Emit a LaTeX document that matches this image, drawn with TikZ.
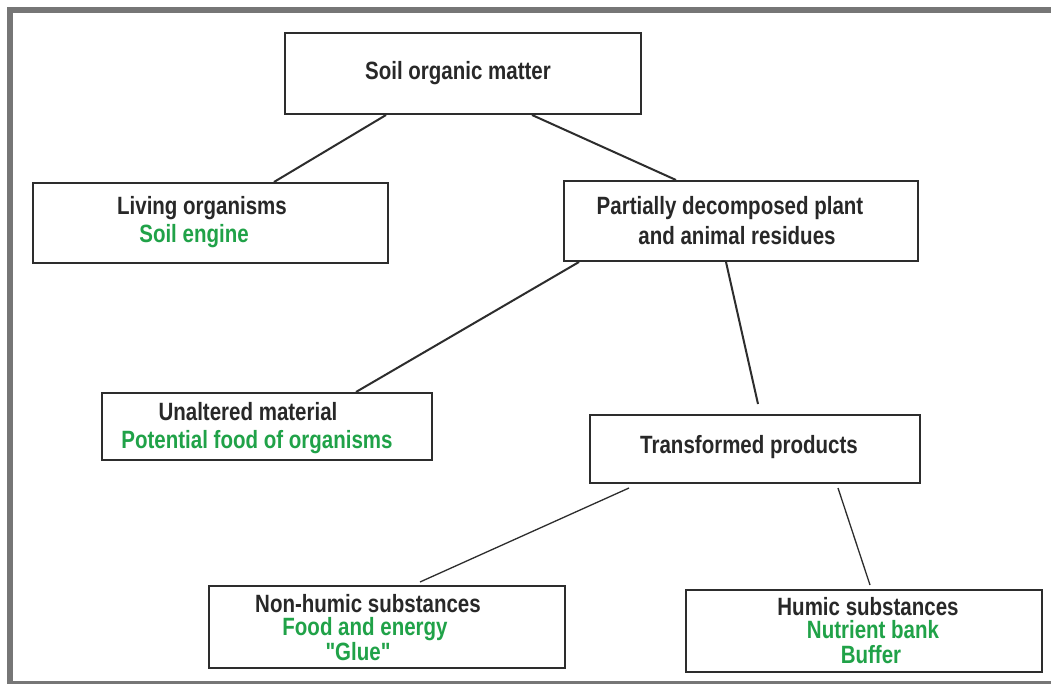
\documentclass[tikz,border=0pt]{standalone}
\usepackage{fontspec}
\newfontfamily\narrowfont{Liberation Sans}[FakeStretch=0.82]
\usetikzlibrary{calc}
\definecolor{framegray}{RGB}{118,118,118}
\definecolor{boxgray}{RGB}{45,45,45}
\definecolor{txtgray}{RGB}{40,40,40}
\definecolor{txtgreen}{RGB}{32,162,72}
\tikzset{
  box/.style={draw=boxgray, line width=2pt, inner sep=0pt, fill=white},
  blk/.style={anchor=base, inner sep=0pt, text=txtgray, font=\narrowfont\bfseries\fontsize{25}{27}\selectfont},
  grn/.style={anchor=base, inner sep=0pt, text=txtgreen, font=\narrowfont\bfseries\fontsize{25}{27}\selectfont},
  link/.style={draw=boxgray, line width=2pt},
  thinlink/.style={draw=boxgray, line width=1.3pt},
}
\begin{document}
\begin{tikzpicture}[x=1pt,y=-1pt]
\useasboundingbox (0,0) rectangle (1051,684);
\clip (0,0) rectangle (1051,684);
\fill[white] (0,0) rectangle (1051,684);
\draw[framegray, line width=6pt] (10,10) rectangle (1070,684);

% boxes
\node[box, minimum width=356pt, minimum height=81pt] (som) at (463,73.5) {};
\node[box, minimum width=355pt, minimum height=80pt] (liv) at (210.5,223) {};
\node[box, minimum width=354pt, minimum height=80pt] (pd) at (741,221) {};
\node[box, minimum width=330pt, minimum height=67pt] (una) at (267,426.5) {};
\node[box, minimum width=330pt, minimum height=68pt] (tp) at (755,449) {};
\node[box, minimum width=356pt, minimum height=82pt] (nh) at (387,627) {};
\node[box, minimum width=356pt, minimum height=82pt] (hu) at (864,631) {};

% texts
\node[blk] (t-som) at (458,80) {Soil organic matter};
\node[blk] (t-liv1) at (202,215) {Living organisms};
\node[grn] (t-liv2) at (194,243) {Soil engine};
\node[blk] (t-pd1) at (730,215) {Partially decomposed plant};
\node[blk] (t-pd2) at (737,245) {and animal residues};
\node[blk] (t-una1) at (248,420) {Unaltered material};
\node[grn] (t-una2) at (257,448) {Potential food of organisms};
\node[blk] (t-tp) at (749,453) {Transformed products};
\node[blk] (t-nh1) at (368,612) {Non-humic substances};
\node[grn] (t-nh2) at (365,635) {Food and energy};
\node[grn] (t-nh3) at (358,660) {"Glue"};
\node[blk] (t-hu1) at (868,615) {Humic substances};
\node[grn] (t-hu2) at (873,638) {Nutrient bank};
\node[grn] (t-hu3) at (871,663) {Buffer};

% connectors
\draw[link] ($(som.south west)+(102,0)$) -- ($(liv.north west)+(242,0)$);
\draw[link] ($(som.south west)+(248,0)$) -- ($(pd.north west)+(113,0)$);
\draw[link] ($(pd.south west)+(16,0)$) -- ($(una.north west)+(255,0)$);
\draw[link] ($(pd.south west)+(163,0)$) -- ($(tp.north west)+(169,-10)$);
\draw[thinlink] ($(tp.south west)+(40,4)$) -- ($(nh.north west)+(212,-3)$);
\draw[thinlink] ($(tp.south west)+(249,4)$) -- ($(hu.north west)+(185,-4)$);
\end{tikzpicture}
\end{document}
